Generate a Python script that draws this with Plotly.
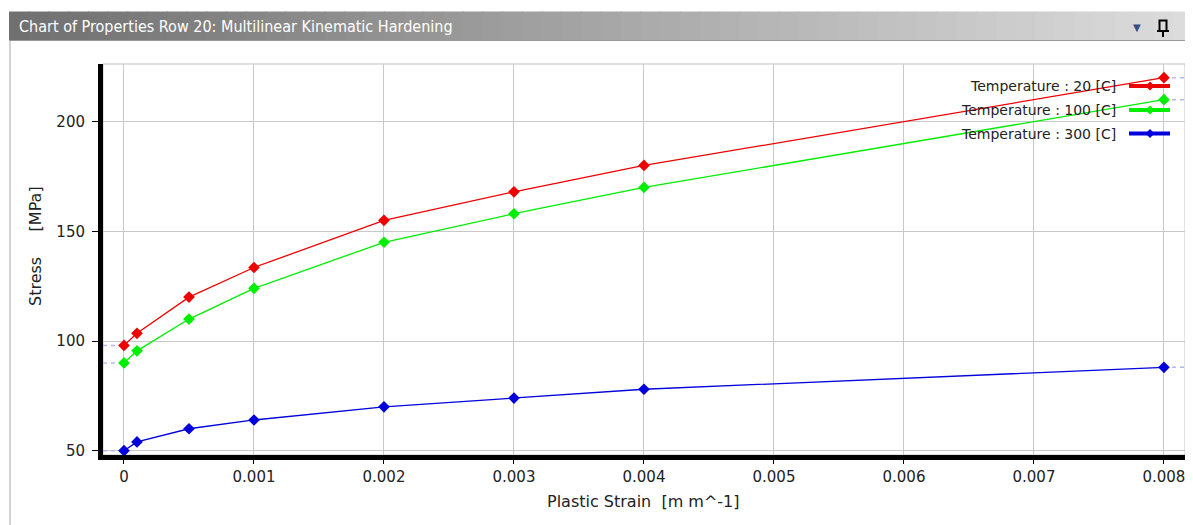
import plotly.graph_objects as go

# ---- data ----
strain = [0, 0.0001, 0.0005, 0.001, 0.002, 0.003, 0.004, 0.008]
stress_20C = [98, 103.5, 120, 133.5, 155, 168, 180, 220]
stress_100C = [90, 95.5, 110, 124, 145, 158, 170, 210]
stress_300C = [50, 54, 60, 64, 70, 74, 78, 88]
series_names = ["Temperature : 20 [C]", "Temperature : 100 [C]", "Temperature : 300 [C]"]
series_colors = ["#ee0000", "#00ee00", "#0000dd"]
x_tick_vals = [0, 0.001, 0.002, 0.003, 0.004, 0.005, 0.006, 0.007, 0.008]
x_tick_text = ["0", "0.001", "0.002", "0.003", "0.004", "0.005", "0.006", "0.007", "0.008"]
y_tick_vals = [50, 100, 150, 200]
x_title = "Plastic Strain\u00a0\u00a0[m m^-1]"
y_title = "Stress" + "\u00a0" * 5 + "[MPa]"
window_title = "Chart of Properties Row 20: Multilinear Kinematic Hardening"

# page body has an 8px margin: work in reference pixels, shift by OFF
OFF = 8
W, H = 1193 - OFF, 525 - OFF
L, R, T, B = 103, 1185, 64, 455
XR = [-0.0001615, 0.008162]
YR = [48.04, 226.25]

def px(x):
    return (x - L) / (R - L)

def py(y):
    return (B - y) / (B - T)

fig = go.Figure()
all_series = [stress_20C, stress_100C, stress_300C]

# dashed extension lines (constant extrapolation)
for ys in all_series:
    fig.add_trace(go.Scatter(x=[XR[0], strain[0]], y=[ys[0], ys[0]], mode="lines",
                             line=dict(color="#b4b8ea", width=1.5, dash="4px,4px"),
                             showlegend=False, hoverinfo="skip"))
    fig.add_trace(go.Scatter(x=[strain[-1], XR[1]], y=[ys[-1], ys[-1]], mode="lines",
                             line=dict(color="#b4b8ea", width=1.5, dash="4px,4px"),
                             showlegend=False, hoverinfo="skip"))

for ys, name, col in zip(all_series, series_names, series_colors):
    fig.add_trace(go.Scatter(x=strain, y=ys, mode="lines+markers", name=name,
                             line=dict(color=col, width=1.3),
                             marker=dict(symbol="diamond", size=9, color=col),
                             showlegend=False))

shapes = []
annotations = []

# plot frame (top/right gray border)
shapes.append(dict(type="rect", xref="paper", yref="paper", x0=0, x1=1, y0=0, y1=1,
                   line=dict(color="#c4c4c4", width=1), layer="below"))

# title bar gradient
n = 60
x_start, x_end = 9, 1193
c0, c1 = (0x70, 0x70, 0x70), (0xdc, 0xdc, 0xdc)
for i in range(n):
    t = i / (n - 1)
    c = tuple(int(round(a + (b - a) * t)) for a, b in zip(c0, c1))
    xa = x_start + (x_end - x_start) * i / n
    xb = x_start + (x_end - x_start) * (i + 1) / n + 1
    shapes.append(dict(type="rect", xref="paper", yref="paper",
                       x0=px(xa), x1=px(xb), y0=py(40.5), y1=py(11.5),
                       line=dict(width=0), fillcolor="rgb(%d,%d,%d)" % c, layer="above"))
shapes.append(dict(type="line", xref="paper", yref="paper", x0=px(9), x1=px(1193),
                   y0=py(40.5), y1=py(40.5), line=dict(color="#9a9a9a", width=1)))
# window left border
shapes.append(dict(type="line", xref="paper", yref="paper", x0=px(10), x1=px(10),
                   y0=py(41), y1=py(525), line=dict(color="#a8a8a8", width=1)))
# pin icon
shapes.append(dict(type="line", xref="paper", yref="paper", x0=px(1157), x1=px(1169),
                   y0=py(31), y1=py(31), line=dict(color="#000", width=2)))
shapes.append(dict(type="rect", xref="paper", yref="paper", x0=px(1159.5), x1=px(1166.5),
                   y0=py(31), y1=py(20.5), line=dict(color="#000", width=2)))
shapes.append(dict(type="line", xref="paper", yref="paper", x0=px(1163), x1=px(1163),
                   y0=py(31), y1=py(37), line=dict(color="#000", width=2)))
# close icon (partly cut off)
shapes.append(dict(type="line", xref="paper", yref="paper", x0=px(1188), x1=px(1197),
                   y0=py(21), y1=py(32), line=dict(color="#000", width=2)))
shapes.append(dict(type="line", xref="paper", yref="paper", x0=px(1188), x1=px(1197),
                   y0=py(32), y1=py(21), line=dict(color="#000", width=2)))

annotations.append(dict(text=window_title, xref="paper", yref="paper", x=px(17), y=py(26.5),
                        xanchor="left", yanchor="middle", showarrow=False,
                        font=dict(family="DejaVu Sans Condensed, Liberation Sans Narrow, DejaVu Sans",
                                  size=16, color="white")))
annotations.append(dict(text="\u25bc", xref="paper", yref="paper", x=px(1137), y=py(27.5),
                        xanchor="center", yanchor="middle", showarrow=False,
                        font=dict(family="DejaVu Sans", size=10, color="#3a4c80")))

# axis titles
annotations.append(dict(text=x_title, xref="paper", yref="paper", x=px(643), y=py(501),
                        xanchor="center", yanchor="middle", showarrow=False,
                        font=dict(family="DejaVu Sans", size=16, color="#222")))
annotations.append(dict(text=y_title, xref="paper", yref="paper", x=px(35), y=py(246),
                        xanchor="center", yanchor="middle", showarrow=False, textangle=-90,
                        font=dict(family="DejaVu Sans", size=16, color="#222")))

# manual legend (text left of symbol)
leg_y = [86, 110, 133.5]
for name, col, yy in zip(series_names, series_colors, leg_y):
    annotations.append(dict(text=name, xref="paper", yref="paper", x=px(1118), y=py(yy),
                            xanchor="right", yanchor="middle", showarrow=False,
                            font=dict(family="DejaVu Sans", size=14, color="#222")))
    shapes.append(dict(type="line", xref="paper", yref="paper", x0=px(1129), x1=px(1170),
                       y0=py(yy), y1=py(yy), line=dict(color=col, width=4), layer="above"))
    cx, cy, d = 1150, yy, 4.5
    path = "M %f %f L %f %f L %f %f L %f %f Z" % (
        px(cx - d), py(cy), px(cx), py(cy - d), px(cx + d), py(cy), px(cx), py(cy + d))
    shapes.append(dict(type="path", xref="paper", yref="paper", path=path,
                       fillcolor=col, line=dict(color=col, width=0), layer="above"))

tickfont = dict(family="DejaVu Sans", size=15, color="#222")
fig.update_layout(
    width=W, height=H,
    margin=dict(l=L - OFF, r=W - (R - OFF), t=T - OFF, b=H - (B - OFF), pad=0),
    paper_bgcolor="white", plot_bgcolor="white",
    showlegend=False,
    shapes=shapes, annotations=annotations,
    xaxis=dict(range=XR, tickvals=x_tick_vals, ticktext=x_tick_text,
               showgrid=True, gridcolor="#c8c8c8", gridwidth=1, zeroline=False,
               showline=True, linecolor="black", linewidth=5,
               ticks="outside", ticklen=4, tickcolor="#000", tickwidth=1,
               tickfont=tickfont),
    yaxis=dict(range=YR, tickvals=y_tick_vals,
               showgrid=True, gridcolor="#c8c8c8", gridwidth=1, zeroline=False,
               showline=True, linecolor="black", linewidth=5,
               ticks="outside", ticklen=6, tickcolor="#000", tickwidth=1,
               ticklabelstandoff=4, tickfont=tickfont),
)

fig.write_html("out.html")
